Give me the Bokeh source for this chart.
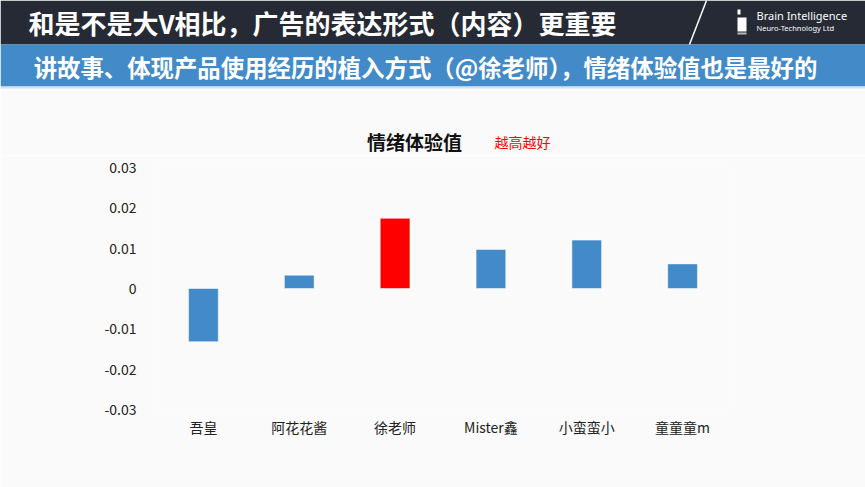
from bokeh.plotting import figure
from bokeh.models import Range1d, FactorRange, FixedTicker, CustomJSTickFormatter, ColumnDataSource
from bokeh.core.properties import value
from bokeh.embed import file_html
from bokeh.resources import INLINE

# ---- data ----
header_title = "和是不是大V相比，广告的表达形式（内容）更重要"
banner_text = "讲故事、体现产品使用经历的植入方式（@徐老师），情绪体验值也是最好的"
chart_title = "情绪体验值"
chart_note = "越高越好"
logo_line1 = "Brain Intelligence"
logo_line2 = "Neuro-Technology Ltd"

categories = ["吾皇", "阿花花酱", "徐老师", "Mister鑫", "小蛮蛮小", "童童童m"]
emotion_values = [-0.0132, 0.0033, 0.0174, 0.0097, 0.0120, 0.0061]
highlight = "徐老师"
yticks = [-0.03, -0.02, -0.01, 0.0, 0.01, 0.02, 0.03]
ytick_labels = ["-0.03", "-0.02", "-0.01", "0", "0.01", "0.02", "0.03"]

CJK = "Noto Sans CJK SC"
BG = "#fafafa"
DARK = "#252a35"
BLUE = "#428bc8"
RED = "#ff0000"

# ---- header figure (page pixel coordinates, y downward) ----
W, H_TOP = 865, 155
top = figure(width=W, height=H_TOP, x_range=Range1d(0, W), y_range=Range1d(H_TOP, 0),
             output_backend="svg", toolbar_location=None, min_border=0,
             x_axis_location=None, y_axis_location=None)
top.grid.visible = False
top.outline_line_color = None
top.background_fill_color = BG
top.border_fill_color = BG

top.quad(left=[0], right=[W], top=[0], bottom=[44], fill_color=DARK, line_color=None)
top.quad(left=[0], right=[W], top=[44], bottom=[86], fill_color=BLUE, line_color=None)
top.quad(left=[0], right=[W], top=[86], bottom=[88], fill_color="#cfe1f1", line_color=None)
top.line(x=[706, 689], y=[0, 44], line_color="white", line_width=1.5)
# logo mark
top.quad(left=[737], right=[746], top=[17], bottom=[31], fill_color="white", line_color=None)
top.quad(left=[737], right=[740], top=[9], bottom=[14], fill_color="white", line_color=None)
top.quad(left=[737], right=[746], top=[32], bottom=[34], fill_color="#bbbbbb", line_color=None)
top.text(x=[756], y=[15], text=[logo_line1], text_font=value("Noto Sans"), text_font_size="11px",
         text_color="white", text_baseline="middle", text_align="left")
top.text(x=[756], y=[27], text=[logo_line2], text_font=value("Noto Sans"), text_font_size="7.5px",
         text_color="white", text_baseline="middle", text_align="left")

top.text(x=[28], y=[22], text=[header_title], text_font=value(CJK), text_font_size="26px",
         text_font_style="bold", text_color="white", text_baseline="middle", text_align="left")
top.text(x=[425], y=[66], text=[banner_text], text_font=value(CJK), text_font_size="23.4px",
         text_font_style="bold", text_color="white", text_baseline="middle", text_align="center")
top.text(x=[414], y=[141], text=[chart_title], text_font=value(CJK), text_font_size="19px",
         text_font_style="bold", text_color="#111111", text_baseline="middle", text_align="center")
top.text(x=[494], y=[141], text=[chart_note], text_font=value(CJK), text_font_size="14px",
         text_color=RED, text_baseline="middle", text_align="left")

# ---- chart figure ----
colors = [RED if c == highlight else BLUE for c in categories]
src = ColumnDataSource(dict(cat=categories, val=emotion_values, color=colors))

p = figure(width=W, height=487 - H_TOP, x_range=FactorRange(factors=categories, range_padding=0),
           y_range=Range1d(yticks[0], yticks[-1]),
           output_backend="svg", toolbar_location=None,
           min_border_left=155, min_border_right=135, min_border_top=12, min_border_bottom=78)
p.vbar(x="cat", top="val", bottom=0, width=0.31, fill_color="color", line_color="white",
       line_alpha=0.5, line_width=1, source=src)

p.grid.visible = False
p.outline_line_color = None
p.background_fill_color = BG
p.border_fill_color = BG

p.yaxis.ticker = FixedTicker(ticks=yticks)
p.yaxis.formatter = CustomJSTickFormatter(args=dict(tvals=yticks, tlabels=ytick_labels), code="""
    const i = tvals.findIndex(t => Math.abs(t - tick) < 1e-9);
    return i >= 0 ? tlabels[i] : '';
""")
for ax in (p.xaxis, p.yaxis):
    ax.axis_line_color = None
    ax.major_tick_line_color = None
    ax.minor_tick_line_color = None
    ax.major_label_text_font = CJK
    ax.major_label_text_font_size = "14px"
    ax.major_label_text_color = "#222222"
p.yaxis.major_label_standoff = 13
p.xaxis.major_label_standoff = 1

open("out.html", "w").write(file_html([top, p], INLINE))
